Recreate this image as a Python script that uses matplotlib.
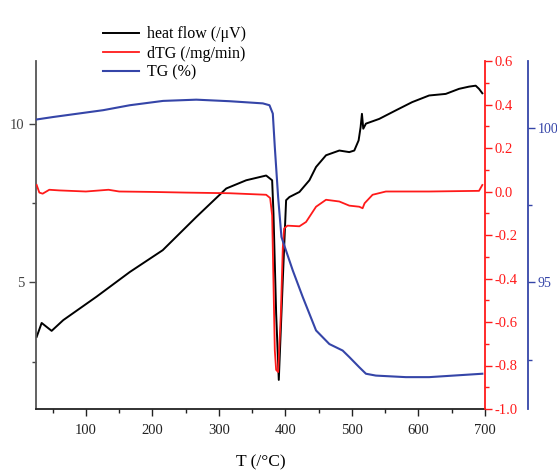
import matplotlib
matplotlib.use("Agg")
import matplotlib.pyplot as plt
from matplotlib.ticker import MultipleLocator, FormatStrFormatter

plt.rcParams['font.family'] = ['Liberation Serif', 'DejaVu Serif']
plt.rcParams['axes.unicode_minus'] = False

# heat flow (/uV), left axis
hf_T = [26, 33.5, 48.5, 66, 116, 166, 215.5, 266, 311, 341, 371, 380, 382, 386, 390,
        396, 401, 406, 421, 436, 446, 461, 481, 496, 503.5, 510, 513, 515, 517, 521,
        541, 566, 590.5, 616, 641, 661, 676, 686, 691, 696]
hf_val = [3.28, 3.72, 3.47, 3.81, 4.55, 5.33, 6.02, 7.07, 7.97, 8.23, 8.38, 8.23, 7.19,
          4.03, 1.92, 5.07, 7.6, 7.7, 7.86, 8.23, 8.65, 9.02, 9.17, 9.12, 9.17, 9.49,
          9.91, 10.33, 9.86, 10.02, 10.17, 10.44, 10.7, 10.91, 10.96, 11.12, 11.19,
          11.22, 11.12, 10.98]

# dTG (/mg/min), red axis
dtg_T = [26, 30, 35, 45, 60, 100, 134, 150, 200, 250, 316, 371, 377, 380, 382, 384,
         386, 389, 393, 396, 398, 403, 421, 431, 446, 461, 481, 496, 511, 516, 519,
         531, 551, 616, 691, 696]
dtg_val = [0.03, -0.005, -0.01, 0.008, 0.005, 0.0, 0.008, 0.0, -0.002, -0.005, -0.008,
           -0.015, -0.03, -0.11, -0.42, -0.73, -0.82, -0.83, -0.57, -0.26, -0.17,
           -0.157, -0.16, -0.14, -0.07, -0.038, -0.046, -0.065, -0.07, -0.077, -0.054,
           -0.015, 0.0, 0.0, 0.003, 0.03]

# TG (%), blue axis
tg_T = [26, 51, 126, 166, 216, 266, 316, 366, 376, 381, 384, 389, 394, 399, 411, 426,
        446, 466, 486, 496, 511, 521, 536, 581, 616, 696]
tg_val = [100.26, 100.34, 100.56, 100.72, 100.86, 100.9, 100.85, 100.78, 100.72, 100.45,
          99.37, 97.75, 96.46, 96.14, 95.38, 94.52, 93.44, 93.0, 92.79, 92.58, 92.25,
          92.04, 91.98, 91.93, 91.93, 92.04]

red = '#ff1a1a'
blue = '#3545a8'

fig = plt.figure(figsize=(5.57, 4.71), dpi=100)
ax = fig.add_axes([36 / 557, 1 - 409 / 471, (485 - 36) / 557, (409 - 61) / 471])
ax2 = ax.twinx()
ax3 = ax.twinx()

l1, = ax.plot(hf_T, hf_val, color='black', lw=1.4, label='heat flow (/\u03bcV)')
l2, = ax2.plot(dtg_T, dtg_val, color=red, lw=1.3, label='dTG (/mg/min)')
l3, = ax3.plot(tg_T, tg_val, color=blue, lw=1.5, label='TG (%)')

ax.set_xlim(25, 700)
ax.set_ylim(1, 12)
ax2.set_ylim(-1.0, 0.6)
ax3.set_ylim(90.9, 102.15)

ax.xaxis.set_major_locator(MultipleLocator(100))
ax.xaxis.set_minor_locator(MultipleLocator(50))
ax.yaxis.set_major_locator(MultipleLocator(5))
ax.yaxis.set_minor_locator(MultipleLocator(2.5))
ax2.yaxis.set_major_locator(MultipleLocator(0.2))
ax2.yaxis.set_minor_locator(MultipleLocator(0.1))
ax2.yaxis.set_major_formatter(FormatStrFormatter('%.1f'))
ax3.yaxis.set_major_locator(MultipleLocator(5))
ax3.yaxis.set_minor_locator(MultipleLocator(2.5))

for a in (ax, ax2, ax3):
    a.spines['top'].set_visible(False)
ax.spines['right'].set_visible(False)
ax2.spines['left'].set_visible(False)
ax3.spines['left'].set_visible(False)
ax3.spines['bottom'].set_visible(False)
ax2.spines['bottom'].set_visible(False)

ax.spines['left'].set_color('#555555')
ax.spines['bottom'].set_color('#222222')
ax.spines['left'].set_linewidth(1.3)
ax.spines['bottom'].set_linewidth(1.3)
ax.tick_params(axis='y', which='both', direction='out', colors='#444444', labelsize=10.5)
ax.tick_params(axis='x', which='both', direction='out', colors='#222222', labelsize=10.5, pad=6)
ax.tick_params(which='major', length=5, width=1)
ax.tick_params(which='minor', length=3, width=1)

ax2.spines['right'].set_color(red)
ax2.spines['right'].set_linewidth(1.3)
ax2.tick_params(axis='y', which='both', colors=red, labelsize=10.5, direction='out', pad=2)
ax2.tick_params(which='major', length=5, width=1)
ax2.tick_params(which='minor', length=3, width=1)

ax3.spines['right'].set_position(('outward', 31))
ax3.spines['right'].set_color(blue)
ax3.spines['right'].set_linewidth(1.3)
ax3.tick_params(axis='y', which='both', colors=blue, labelsize=10, direction='out', pad=2)
ax3.tick_params(which='major', length=5, width=1)
ax3.tick_params(which='minor', length=3, width=1)

ax.set_xlabel('T (/\u00b0C)', fontsize=12.5, labelpad=12)

fig.legend(handles=[l1, l2, l3], loc='upper left', bbox_to_anchor=(97 / 557, 1 - 20 / 471),
           frameon=False, fontsize=11.5, handlelength=2.2, handletextpad=0.5,
           labelspacing=0.2, borderaxespad=0)

fig.savefig('out.png', dpi=100)
